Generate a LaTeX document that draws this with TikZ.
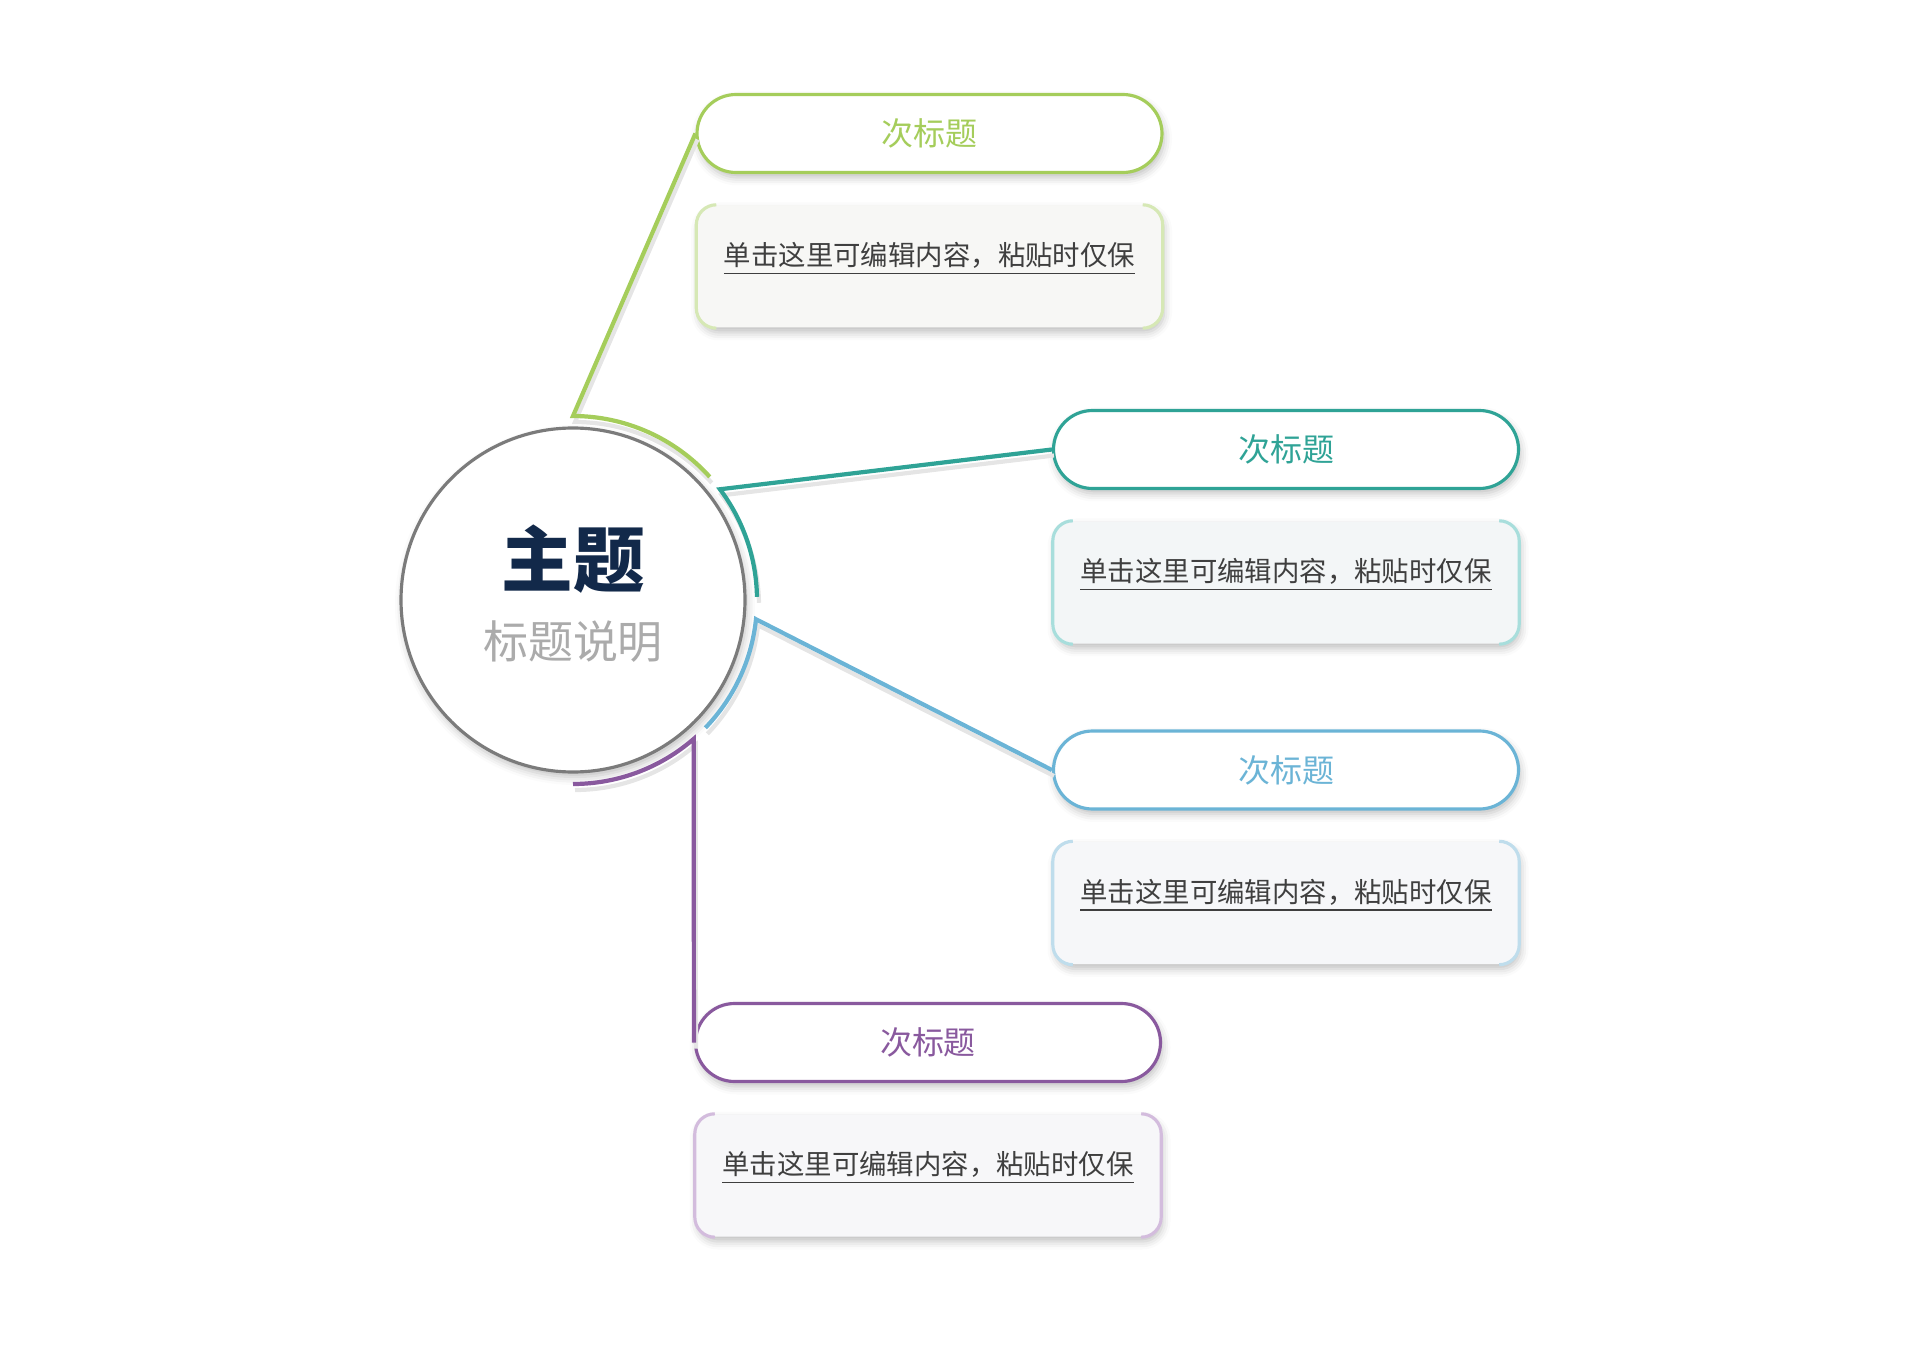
\documentclass[tikz,border=0pt]{standalone}
\usepackage{fontspec}
\setmainfont{Noto Sans CJK SC}[BoldFont={Noto Sans CJK SC Black}]
\usetikzlibrary{shadows.blur}
\definecolor{leaf}{HTML}{A5CD5B}
\definecolor{leafL}{HTML}{D6E8B5}
\definecolor{leafF}{HTML}{F7F7F5}
\definecolor{sea}{HTML}{2FA396}
\definecolor{seaL}{HTML}{A8DEDC}
\definecolor{seaF}{HTML}{F3F6F7}
\definecolor{sky}{HTML}{6BB4D6}
\definecolor{skyL}{HTML}{BFDDEC}
\definecolor{skyF}{HTML}{F6F7F9}
\definecolor{plum}{HTML}{89599E}
\definecolor{plumL}{HTML}{D3BCDD}
\definecolor{plumF}{HTML}{F7F7F9}
\definecolor{ring}{HTML}{7B7B7B}
\definecolor{topicblue}{HTML}{12294A}
\definecolor{descgray}{HTML}{ABABAB}
\definecolor{bodytext}{HTML}{3F3F3F}
\begin{document}
\begin{tikzpicture}[
  x=0.1mm, y=0.1mm,
  softshadow/.style={blur shadow={shadow xshift=0.2mm, shadow yshift=-0.5mm, shadow blur radius=0.8mm, shadow opacity=25}},
  subtitle/.style={rectangle, draw=#1, text=#1, fill=white, line width=0.9pt, rounded corners=3.9mm,
    minimum width=46.5mm, minimum height=7.8mm, font=\fontsize{9.1pt}{11pt}\selectfont, softshadow},
  content/.style={rectangle, fill=#1, rounded corners=2mm, minimum width=46.5mm, minimum height=12.2mm,
    text depth=2.5mm, text=bodytext, font=\fontsize{7.8pt}{10pt}\selectfont, softshadow},
  branch/.style={draw=#1, line width=1.2pt,
    preaction={draw=black!10, line width=1.2pt, transform canvas={xshift=0.2mm, yshift=-0.6mm}}},
  bracket/.style={draw=#1, line width=0.9pt},
  node distance=13.3mm
]
\useasboundingbox (0,0) rectangle (1920,1357);

\node[circle, draw=ring, fill=white, line width=0.9pt, minimum size=34.4mm, softshadow] (main) at (573,757) {};
\node[above of=main, node distance=4.1mm, text=topicblue, font=\fontsize{20.4pt}{24pt}\selectfont\bfseries] (topic) {主题};
\node[below of=main, node distance=4.2mm, text=descgray, font=\fontsize{12.8pt}{15pt}\selectfont] (desc) {标题说明};

\node[subtitle=leaf] (g1) at (929.5,1223.5) {次标题};
\node[content=leafF, below of=g1] (g2) {\underline{单击这里可编辑内容，粘贴时仅保}};
\node[subtitle=sea] (t1) at (1286,907.5) {次标题};
\node[content=seaF, below of=t1] (t2) {\underline{单击这里可编辑内容，粘贴时仅保}};
\node[subtitle=sky] (b1) at (1286,587) {次标题};
\node[content=skyF, below of=b1] (b2) {\underline{单击这里可编辑内容，粘贴时仅保}};
\node[subtitle=plum] (p1) at (928,314.5) {次标题};
\node[content=plumF, below of=p1] (p2) {\underline{单击这里可编辑内容，粘贴时仅保}};

\draw[branch=leaf] (g1.west) -- ([shift={(main.center)}]90:18.4mm) arc[start angle=90, end angle=42, radius=18.4mm];
\draw[branch=sea] (t1.west) -- ([shift={(main.center)}]37:18.4mm) arc[start angle=37, end angle=1, radius=18.4mm];
\draw[branch=sky] (b1.west) -- ([shift={(main.center)}]-6:18.4mm) arc[start angle=-6, end angle=-44, radius=18.4mm];
\draw[branch=plum] (p1.west) -- ([shift={(main.center)}]-49:18.4mm) arc[start angle=-49, end angle=-90, radius=18.4mm];

\foreach \c/\col in {g2/leafL, t2/seaL, b2/skyL, p2/plumL}{
  \draw[bracket=\col] ([xshift=2mm]\c.north west) arc[start angle=90, end angle=180, radius=2mm]
    -- ([yshift=2mm]\c.south west) arc[start angle=180, end angle=270, radius=2mm];
  \draw[bracket=\col] ([xshift=-2mm]\c.north east) arc[start angle=90, end angle=0, radius=2mm]
    -- ([yshift=2mm]\c.south east) arc[start angle=0, end angle=-90, radius=2mm];
}
\end{tikzpicture}
\end{document}
